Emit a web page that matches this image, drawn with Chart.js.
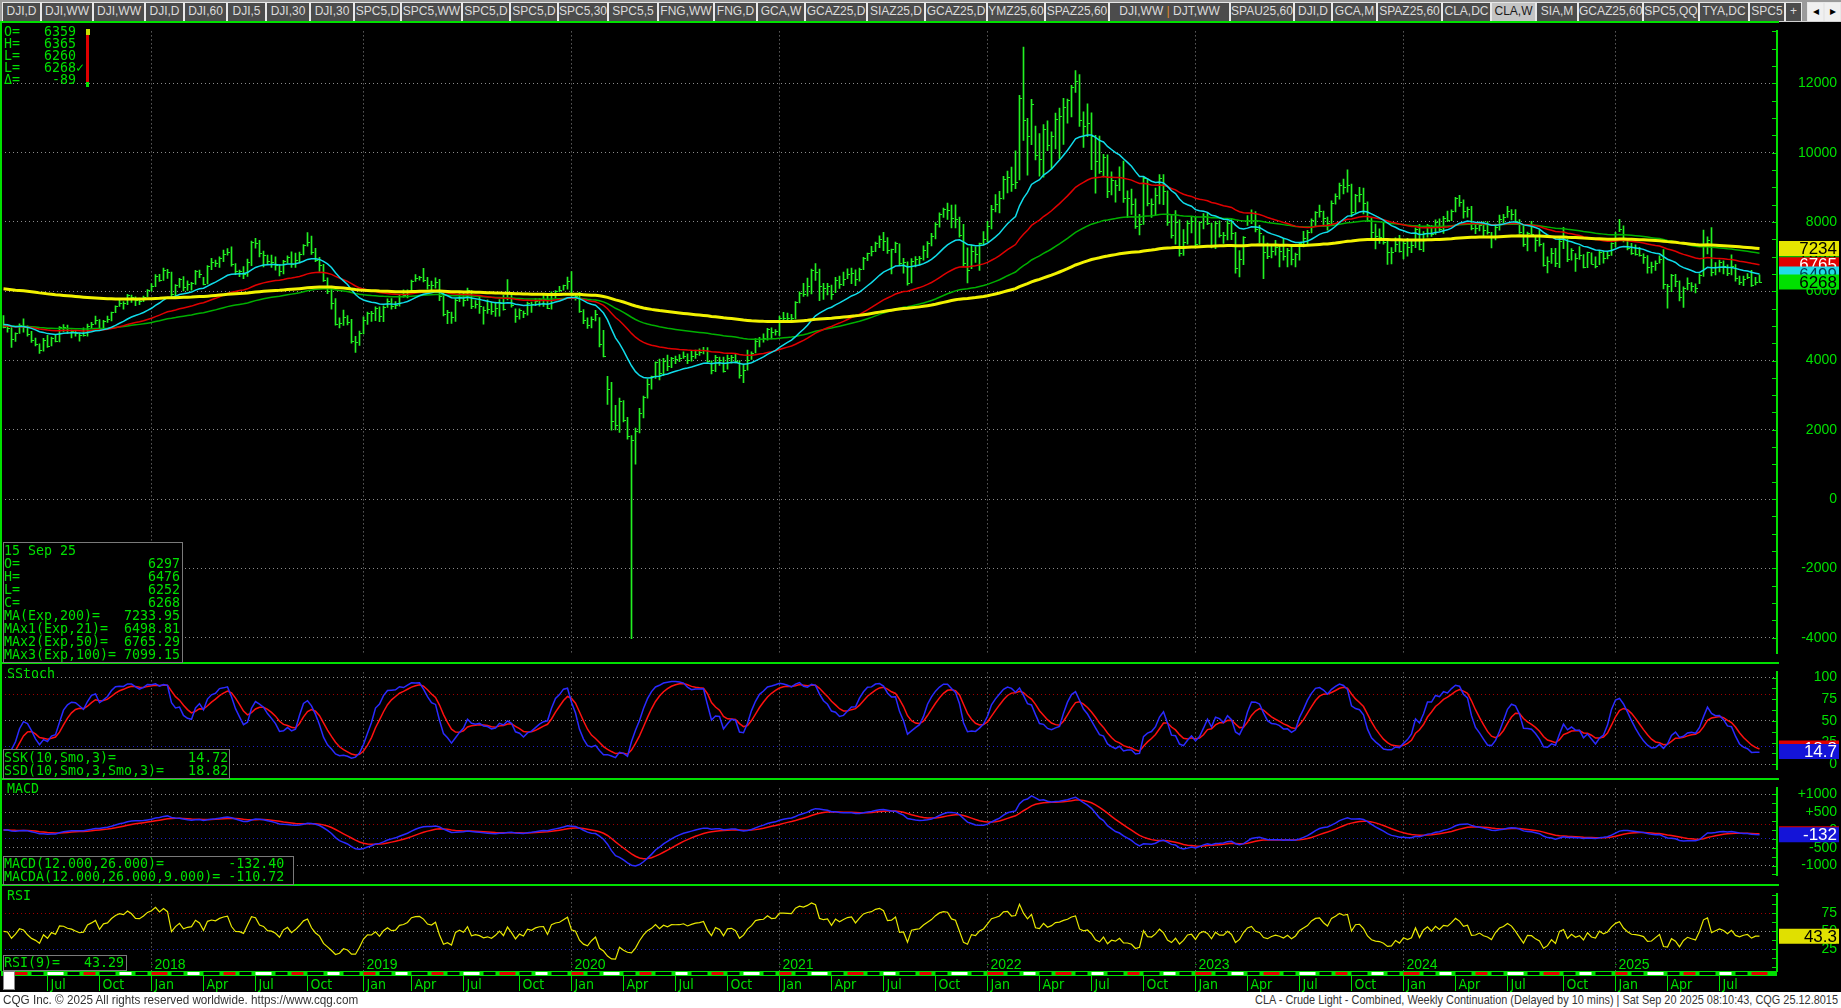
<!DOCTYPE html>
<html>
<head>
<meta charset="utf-8">
<script src="https://cdn.jsdelivr.net/npm/chart.js@4.4.1/dist/chart.umd.min.js"></script>
<style>
  html, body { margin: 0; padding: 0; background: #000; width: 1841px; height: 1008px; overflow: hidden; }
  #tabs { position: absolute; left: 0; top: 0; width: 1841px; height: 22px; background: #9a9a9a; border-bottom: 1px solid #d0d0d0; box-sizing: border-box; }
  .tab { position: absolute; top: 2px; height: 19px; box-sizing: border-box; background: #4c4c4c; color: #dcdcdc;
         border: 1px solid #e8e8e8; border-bottom: none; font: 12px "Liberation Sans", Arial, sans-serif; line-height: 17px; text-align: center; white-space: nowrap; overflow: hidden; }
  .tab.on { background: #c4c4c4; color: #1a1a1a; }
  .tab .sep { color: #e08a20; }
  .panel { position: absolute; left: 0; }
  .gl { position: absolute; background: #00e000; }
  .txt { position: absolute; font: 13.3px "DejaVu Sans Mono", "Liberation Mono", monospace; color: #00e000; white-space: pre; line-height: 13px; }
  .box { position: absolute; border: 1px solid #7a7a7a; background: #000; box-sizing: border-box; }
  #footer { position: absolute; left: 0; top: 992px; width: 1841px; height: 16px; background: #fff; color: #333;
            font: 13px "Liberation Sans", Arial, sans-serif; line-height: 16px; white-space: nowrap; }
  #footer span { position: absolute; top: 0; }
</style>
</head>
<body>
<div id="tabs"></div>

<canvas id="main" class="panel" style="top:23px" width="1841" height="639"></canvas>
<canvas id="stoch" class="panel" style="top:664px" width="1841" height="114"></canvas>
<canvas id="macd" class="panel" style="top:780px" width="1841" height="104"></canvas>
<canvas id="rsi" class="panel" style="top:886px" width="1841" height="106"></canvas>

<div class="gl" style="left:0;top:21px;width:1779px;height:2px"></div>
<div class="gl" style="left:0;top:662px;width:1779px;height:2px"></div>
<div class="gl" style="left:0;top:778px;width:1779px;height:2px"></div>
<div class="gl" style="left:0;top:884px;width:1779px;height:2px"></div>
<div class="gl" style="left:0;top:21px;width:2px;height:950px"></div>

<div class="txt" style="left:4px;top:26px;line-height:12px">O=   6359
H=   6365
L=   6260
L=   6268&#10003;
&#916;=    -89</div>
<div style="position:absolute;left:86px;top:29px;width:3px;height:58px;background:#e00000"></div>
<div style="position:absolute;left:86px;top:82px;width:3px;height:5px;background:#00e000"></div>
<div style="position:absolute;left:86px;top:29px;width:4px;height:6px;background:#c8e000"></div>

<div class="box" style="left:3px;top:542px;width:180px;height:121px"></div>
<div class="txt" style="left:4px;top:544px">15 Sep 25
O=                6297
H=                6476
L=                6252
C=                6268
MA(Exp,200)=   7233.95
MAx1(Exp,21)=  6498.81
MAx2(Exp,50)=  6765.29
MAx3(Exp,100)= 7099.15</div>

<div class="txt" style="left:7px;top:667px">SStoch</div>
<div class="box" style="left:3px;top:749px;width:227px;height:30px"></div>
<div class="txt" style="left:4px;top:751px">SSK(10,Smo,3)=         14.72
SSD(10,Smo,3,Smo,3)=   18.82</div>

<div class="txt" style="left:7px;top:782px">MACD</div>
<div class="box" style="left:3px;top:856px;width:291px;height:29px"></div>
<div class="txt" style="left:4px;top:857px">MACD(12.000,26.000)=        -132.40
MACDA(12.000,26.000,9.000)= -110.72</div>

<div class="txt" style="left:7px;top:889px">RSI</div>
<div class="box" style="left:3px;top:955px;width:124px;height:16px"></div>
<div class="txt" style="left:4px;top:956px">RSI(9)=   43.29</div>
<div style="position:absolute;left:3px;top:971px;width:12px;height:19px;background:#fff;border:1px solid #888;box-sizing:border-box"></div>

<div id="footer"><span style="left:3px;transform:scaleX(0.9);transform-origin:left center">CQG Inc. &copy; 2025 All rights reserved worldwide. https://www.cqg.com</span><span style="right:3px;transform:scaleX(0.84);transform-origin:right center">CLA - Crude Light - Combined, Weekly Continuation (Delayed by 10 mins) | Sat Sep 20 2025 08:10:43, CQG 25.12.8015</span></div>

<script>
// CLA weekly continuation, one bar per week starting Mon 17 Apr 2017, prices in cents
const closes = [
  // 2017
  4962,4933,4622,4784,5033,4980,4766,4583,4474,4301,4604,4423,4654,4577,4971,4958,4882,4851,4787,4729,4748,4989,5066,5167,4929,5145,5184,5390,5564,5674,5655,5895,5836,5736,5730,5847,6042,
  // 2018
  6144,6430,6337,6614,6545,5920,6168,6355,6125,6204,6234,6588,6494,6206,6739,6838,6810,6972,7070,7128,6788,6581,6574,6506,6858,7415,7380,7101,7046,6869,6849,6763,6591,6872,6980,6775,6899,7078,7325,7434,7134,6912,6759,6314,6019,5646,5042,5093,5261,5120,4559,4533,4796,
  // 2019
  5159,5380,5369,5526,5272,5559,5726,5580,5607,5852,5904,6014,6308,6389,6400,6330,6194,6166,6276,5863,5350,5399,5251,5743,5847,5751,6021,5563,5620,5566,5450,5487,5417,5510,5652,5485,5809,5591,5281,5470,5378,5666,5620,5724,5772,5777,5517,5920,6007,6044,6172,6305,
  // 2020
  5904,5854,5419,5156,5032,5205,5338,4476,4128,3173,2243,2151,2834,2276,1827,1694,1978,2474,2943,3325,3549,3955,3626,3975,3849,4065,4055,4059,4129,4027,4122,4201,4234,4297,3977,3733,4111,4025,3705,4060,4088,3985,3579,3714,4013,4215,4553,4626,4657,4910,4823,4852,
  // 2021
  5224,5236,5227,5220,5685,5947,5924,6150,6609,6561,6142,6097,6145,5932,6313,6214,6358,6490,6537,6358,6632,6962,7091,7164,7405,7516,7456,7181,7207,7395,6828,6844,6232,6874,6929,6972,7197,7398,7588,7935,8228,8376,8357,8127,8079,7610,6815,6626,7167,7086,7379,7521,
  // 2022
  7890,8382,8514,8682,9231,9310,9107,9159,11568,10933,10470,11390,9927,9826,10695,10207,10469,10977,11049,11323,11507,11887,12067,10956,10762,10843,10479,9759,9470,9862,8901,9209,9077,9306,8687,8679,8511,7874,7949,9264,8561,8505,8790,9261,8896,8008,7628,7998,7102,7429,7956,8026,
  // 2023
  7377,7986,8164,7968,7339,7972,7634,7632,7968,7668,6674,6926,7567,8070,8252,7787,7678,7134,7004,7169,7267,7174,7017,7178,6916,7064,7386,7542,7707,8058,8282,8319,8125,7983,8555,8751,9077,9003,9079,8279,8769,8808,8554,8051,7717,7589,7554,7407,7123,7143,7356,7165,
  // 2024
  7381,7268,7341,7801,7228,7684,7919,7649,7997,7801,8104,8063,8317,8691,8566,8314,8385,7811,7826,7923,7772,7699,7553,7845,8073,8154,8316,8221,8013,7716,7352,7684,7665,7483,7355,6767,6865,7100,6818,7438,7556,6922,7178,6949,7038,6702,7124,6800,6720,7129,6946,7060,7396,
  // 2025
  7657,7788,7466,7253,7100,7074,7040,6976,6704,6718,6828,6936,6199,6150,6468,6302,5829,6102,6249,6153,6079,6458,7298,7493,6552,6700,6845,6734,6516,6733,6388,6280,6366,6401,6187,6269,6268
];
const highs = [
  5300,5000,4950,4800,5060,5200,5000,4840,4650,4480,4640,4730,4680,4740,4980,5040,5020,4880,4860,4800,4940,5050,5100,5286,5180,5160,5280,5400,5580,5770,5700,5910,5890,5840,5800,5860,6050,
  6220,6480,6490,6666,6630,6550,6190,6370,6420,6300,6260,6600,6610,6400,6740,6950,6900,6990,7190,7230,7280,6800,6610,6710,6930,7450,7527,7470,7160,7040,7040,6990,6770,6890,7020,7140,7100,7130,7350,7690,7590,7240,6980,6780,6390,6090,5790,5230,5455,5300,5190,4700,4850,
  5260,5400,5420,5550,5550,5580,5780,5790,5700,5890,6040,6040,6320,6480,6430,6660,6400,6290,6390,6340,5950,5450,5400,5780,5990,5990,6090,6020,5730,5880,5550,5750,5690,5690,5760,5880,6338,5900,5490,5490,5430,5690,5690,5790,5790,5880,5870,5980,6020,6140,6180,6409,
  6565,5900,5970,5470,5230,5260,5450,5240,4870,3540,3370,2710,2913,2840,2360,1830,2050,2620,2970,3466,3550,3960,4044,4060,4160,4090,4130,4170,4250,4190,4290,4300,4340,4380,4370,3990,4150,4100,4100,4160,4150,4180,4000,3900,4300,4250,4630,4670,4770,4930,4940,4890,
  5280,5390,5370,5330,5700,5980,6230,6380,6640,6798,6640,6230,6230,6180,6400,6440,6550,6650,6670,6620,6670,6980,7100,7299,7420,7600,7698,7550,7220,7420,7370,6950,6850,6940,7000,7010,7310,7430,7670,7980,8260,8400,8541,8490,8497,8140,7930,7250,7330,7280,7390,7720,
  8020,8480,8790,8880,9320,9470,9580,10054,11657,13050,10990,11540,10770,10550,10810,10920,10600,11140,11290,11570,11550,11940,12368,12250,11180,11410,11150,10500,10480,9950,9940,9450,9200,9590,9760,8900,8950,8670,8220,9300,9250,8670,8980,9370,9370,8900,8180,8330,8060,7780,8030,8150,
  8150,8010,8240,8260,7970,8020,8030,7700,8030,8090,7700,7170,7580,8180,8350,8300,7900,7600,7390,7300,7470,7350,7510,7240,7300,7100,7410,7730,7760,8090,8300,8490,8310,8140,8610,8810,9120,9240,9503,9090,8800,9000,8980,8580,8110,7940,7800,7960,7450,7260,7540,7610,
  7440,7530,7490,7830,7930,7720,7930,7900,8060,8090,8160,8310,8350,8710,8767,8640,8430,8450,7960,8000,8010,8010,7700,7940,8200,8220,8450,8360,8360,8070,7890,7710,8020,7600,7780,7390,6990,7240,7240,7560,7846,7500,7230,7090,7290,7060,7130,7110,6990,7160,7160,7140,7400,
  7700,8077,7890,7480,7380,7340,7270,7080,7030,6840,6880,7020,7200,6200,6490,6490,6300,6130,6390,6250,6210,6500,7762,7570,7840,6830,6900,6880,6760,7050,6770,6440,6440,6510,6600,6400,6476
];
const lows = [
  4940,4820,4376,4550,4780,4820,4700,4520,4420,4205,4270,4380,4420,4540,4540,4830,4780,4650,4700,4560,4700,4700,4950,5050,4920,4930,5100,5140,5380,5560,5480,5610,5680,5580,5610,5700,5840,
  6000,6130,6280,6310,6370,5807,5830,6110,6010,6020,6030,6200,6390,6180,6210,6620,6710,6690,6850,7040,6720,6480,6420,6360,6430,6740,7240,6990,6700,6790,6690,6610,6440,6500,6820,6690,6690,6820,7050,7300,7060,6850,6570,6280,5930,5480,5020,4940,5010,5030,4500,4236,4435,
  4770,5040,5130,5150,5120,5120,5530,5480,5500,5570,5830,5810,6000,6280,6320,6270,6060,6000,6090,5730,5290,5060,5070,5130,5700,5570,5730,5500,5510,5360,5052,5360,5330,5270,5280,5450,5750,5540,5099,5190,5240,5310,5390,5580,5570,5560,5500,5480,5810,5980,6030,6060,
  5860,5740,5390,5060,4926,4940,5140,4390,4105,2734,1990,2000,1927,2230,1731,-4032,1007,1910,2340,2910,3170,3480,3440,3560,3710,3790,3910,3970,4060,3910,3980,4060,4150,4190,3950,3611,3680,3860,3660,3750,3920,3930,3492,3364,3720,4030,4220,4390,4530,4590,4620,4730,
  4720,5180,5160,5130,5200,5660,5850,5860,5920,6310,5730,5760,5890,5760,5960,6080,6160,6360,6220,6160,6290,6620,6880,7020,7140,7260,7170,7090,6501,7110,6750,6520,6174,6240,6700,6760,6900,6970,7310,7510,7850,8130,8070,7830,7830,7560,6740,6243,6650,6830,6600,7340,
  7430,7800,8290,8260,8660,8840,8880,8960,9210,10350,9353,10230,9790,9320,9290,10060,9530,10110,9820,10240,10850,11030,11740,10760,10150,10460,9510,8831,9400,9300,8700,8780,8570,8900,8560,8120,8220,7810,7625,7930,8460,8130,8210,8520,8500,7900,7530,7360,7010,7030,7360,7680,
  7250,7350,7800,7920,7250,7230,7560,7380,7480,7490,6520,6412,6770,7900,7950,7710,7400,6364,6940,6960,7040,6700,6900,6700,6760,6700,6900,7280,7330,7680,7890,8140,7880,7760,7940,8510,8660,8810,8860,8150,8260,8580,8230,8010,7500,7220,7380,7360,6771,6790,7140,7130,
  6930,7010,7110,7260,7190,7140,7560,7580,7640,7740,7670,8010,8040,8290,8450,8110,8140,7770,7660,7740,7600,7650,7248,7480,7760,7980,8130,8060,7960,7670,7290,7167,7590,7150,7300,6720,6527,6800,6710,6680,7230,6850,6900,6570,6920,6670,6680,6790,6670,6770,6810,6930,7030,
  7280,7720,7420,7190,7060,7040,7010,6800,6520,6520,6600,6810,6070,5512,5990,6130,5720,5530,6040,6000,5950,6220,6430,7080,6440,6470,6560,6500,6450,6470,6290,6190,6160,6360,6140,6180,6252
];

const maSeeds = { e21: 5050, e50: 5000, e100: 5000, e200: 6080 };
// last values printed in the right-hand boxes
const mainBoxes = [
  { v: 7099.15, text: '7099', bg: '#00b400', fg: '#000' },
  { v: 7233.95, text: '7234', bg: '#e6e600', fg: '#000' },
  { v: 6765.29, text: '6765', bg: '#e00000', fg: '#fff' },
  { v: 6498.81, text: '6499', bg: '#20dce8', fg: '#004058' },
  { v: 6268, text: '6268', bg: '#00e000', fg: '#000' }
];
const stochBoxes = [
  { v: 18.82, text: '18.8', bg: '#e00000', fg: '#fff' },
  { v: 14.72, text: '14.7', bg: '#1414d8', fg: '#fff' }
];
const macdBoxes = [
  { v: -110.72, text: '-111', bg: '#e00000', fg: '#fff' },
  { v: -132.40, text: '-132', bg: '#1414d8', fg: '#fff' }
];
const rsiBoxes = [{ v: 43.29, text: '43.3', bg: '#e0e000', fg: '#000' }];

const tabs = [['DJI,D',39],['DJI,WW',52],['DJI,WW',52],['DJI,D',39],['DJI,60',43],['DJI,5',39],['DJI,30',44],['DJI,30',44],
  ['SPC5,D',47],['SPC5,WW',61],['SPC5,D',48],['SPC5,D',48],['SPC5,30',50],['SPC5,5',50],['FNG,WW',56],['FNG,D',43],['GCA,W',48],
  ['GCAZ25,D',62],['SIAZ25,D',58],['GCAZ25,D',62],['YMZ25,60',58],['SPAZ25,60',64],['DJI,WW <span class="sep">|</span> DJT,WW',121],
  ['SPAU25,60',64],['DJI,D',38],['GCA,M',45],['SPAZ25,60',65],['CLA,DC',49],['CLA,W',45],['SIA,M',42],['GCAZ25,60',65],
  ['SPC5,QQ',56],['TYA,DC',50],['SPC5',36],['+',17]];

const GREEN = '#00e000', BAR = '#22f022', DOT = '#8c8c8c';
const tabBar = document.getElementById('tabs');
let tx = 2;
tabs.forEach(([t, w]) => {
  const d = document.createElement('div');
  d.className = 'tab' + (t === 'CLA,W' ? ' on' : '');
  d.style.left = tx + 'px'; d.style.width = w + 'px'; d.innerHTML = t;
  tabBar.appendChild(d); tx += w;
});
tabBar.insertAdjacentHTML('beforeend', '<div class="tab" style="left:1807px;width:17px;background:#f0f0f0;color:#000">&#9666;</div><div class="tab" style="left:1824px;width:17px;background:#f0f0f0;color:#000">&#9656;</div>');

// indicators
function ema(src, n, seed) {
  const a = 2 / (n + 1);
  let prev = seed === undefined ? src[0] : seed;
  return src.map(v => (prev = prev + a * (v - prev)));
}
function smooth(src, n) {
  let prev = src[0];
  return src.map(v => (prev = (prev * (n - 1) + v) / n));
}
const e21 = ema(closes, 21, maSeeds.e21), e50 = ema(closes, 50, maSeeds.e50);
const e100 = ema(closes, 100, maSeeds.e100), e200 = ema(closes, 200, maSeeds.e200);

const rawK = closes.map((c, i) => {
  const from = Math.max(0, i - 9);
  const hh = Math.max(...highs.slice(from, i + 1)), ll = Math.min(...lows.slice(from, i + 1));
  return hh === ll ? 50 : 100 * (c - ll) / (hh - ll);
});
const ssk = smooth(rawK, 3), ssd = smooth(ssk, 3);

const ema12 = ema(closes, 12), ema26 = ema(closes, 26);
const macd = ema12.map((v, i) => v - ema26[i]);
const macdA = ema(macd, 9, 0);

let ag = 100, al = 100;
const rsi = closes.map((c, i) => {
  if (i === 0) return 50;
  const d = c - closes[i - 1];
  ag = (ag * 8 + Math.max(d, 0)) / 9;
  al = (al * 8 + Math.max(-d, 0)) / 9;
  return 100 - 100 / (1 + ag / al);
});

// time axis: week index -> date
const START = Date.UTC(2017, 3, 17);
const dateOf = i => new Date(START + i * 7 * 864e5);
const monthStarts = [], quarterTicks = [], yearTicks = [];
for (let i = 1; i < closes.length + 4; i++) {
  const d = dateOf(i), p = dateOf(i - 1);
  if (d.getUTCMonth() !== p.getUTCMonth()) {
    monthStarts.push(i);
    if (d.getUTCMonth() % 3 === 0 && i < closes.length) quarterTicks.push(i);
    if (d.getUTCMonth() === 0) yearTicks.push(i);
  }
}
const MONTHS = ['Jan','Feb','Mar','Apr','May','Jun','Jul','Aug','Sep','Oct','Nov','Dec'];
const X_MIN = -0.625, X_MAX = 443.375;

const pts = arr => arr.map((v, i) => ({ x: i, y: v }));
const line = (data, color, width, order) => ({ type: 'line', data: pts(data), borderColor: color, borderWidth: width, pointRadius: 0, tension: 0, order });

// small decorations drawn through the chart's own scales
function decor(boxes, minorStep, extra) {
  return {
    id: 'decor',
    afterDatasetDraw(chart, args) {
      if (args.meta.type !== 'bar') return;
      const ctx = chart.ctx, y = chart.scales.y, a = chart.chartArea;
      ctx.save();
      ctx.beginPath(); ctx.rect(a.left, a.top, a.right - a.left, a.bottom - a.top); ctx.clip();
      ctx.strokeStyle = BAR; ctx.lineWidth = 1; ctx.beginPath();
      args.meta.data.forEach((el, i) => {
        const py = Math.round(y.getPixelForValue(closes[i])) + 0.5;
        ctx.moveTo(el.x, py); ctx.lineTo(el.x + 2.5, py);
      });
      ctx.stroke(); ctx.restore();
    },
    afterDraw(chart) {
      const ctx = chart.ctx, y = chart.scales.y, a = chart.chartArea;
      ctx.save();
      ctx.strokeStyle = GREEN; ctx.lineWidth = 1; ctx.beginPath();
      for (let v = Math.ceil(y.min / minorStep) * minorStep; v <= y.max; v += minorStep) {
        const py = Math.round(y.getPixelForValue(v)) + 0.5;
        ctx.moveTo(a.right - 5, py); ctx.lineTo(a.right, py);
      }
      ctx.stroke();
      const x0 = a.right + 2, x1 = chart.width - 2;
      boxes.forEach(b => {
        const py = y.getPixelForValue(b.v);
        ctx.save();
        ctx.beginPath(); ctx.rect(x0, py - 7.5, x1 - x0, 15);
        ctx.fillStyle = b.bg; ctx.fill(); ctx.clip();
        ctx.fillStyle = b.fg; ctx.font = '17px "Liberation Sans", Arial, sans-serif';
        ctx.textAlign = 'right'; ctx.textBaseline = 'middle';
        ctx.fillText(b.text, x1 - 2, py + 1);
        ctx.restore();
      });
      ctx.restore();
      if (extra) extra(chart);
    }
  };
}

function options(yMin, yMax, yTicks, fmt, gridColor, opts = {}) {
  return {
    animation: false, responsive: false, events: [],
    layout: { padding: { left: 1, right: 4, top: 0, bottom: 0 } },
    plugins: { legend: { display: false }, tooltip: { enabled: false } },
    scales: {
      x: Object.assign({
        type: 'linear', min: X_MIN, max: X_MAX, offset: false,
        afterBuildTicks: s => { s.ticks = yearTicks.map(v => ({ value: v })); },
        afterFit: s => { s.height = 0; },
        ticks: { display: false },
        grid: { color: DOT, drawTicks: false, offset: false },
        border: { display: false, dash: [1, 3] }
      }, opts.x || {}),
      y: {
        position: 'right', min: yMin, max: yMax,
        afterBuildTicks: s => { s.ticks = yTicks.map(v => ({ value: v })); },
        afterFit: s => { s.width = 60; },
        ticks: { color: GREEN, autoSkip: false, crossAlign: 'far', padding: 0, callback: fmt,
                 font: { family: '"Liberation Sans", Arial, sans-serif', size: 14 } },
        grid: { color: gridColor, drawTicks: false },
        border: { color: GREEN, width: 2, dash: [1, 3] }
      }
    }
  };
}

// main price panel
new Chart(document.getElementById('main'), {
  data: {
    datasets: [
      { type: 'bar', data: closes.map((c, i) => ({ x: i, y: [lows[i], highs[i]] })), backgroundColor: BAR, barThickness: 1, order: 10 },
      line(e100, '#00b000', 1.5, 4),
      line(e50, '#e00000', 1.5, 3),
      line(e21, '#10dcea', 1.5, 2),
      line(e200, '#f2f200', 3, 1)
    ]
  },
  options: options(-4460, 13500, [-4000, -2000, 0, 2000, 4000, 6000, 8000, 10000, 12000], v => String(v), DOT),
  plugins: [decor(mainBoxes, 500)]
});

// slow stochastic
new Chart(document.getElementById('stoch'), {
  data: { datasets: [
    { type: 'bar', data: [], order: 10 },
    line(ssd, '#ff1010', 1.5, 2),
    line(ssk, '#2a2aff', 1.5, 1)
  ] },
  options: options(-6.2, 105.9, [0, 20, 25, 50, 75, 80, 100],
    v => ([20, 80].includes(v) ? '' : String(v)),
    c => (c.tick.value === 80 ? '#a00000' : c.tick.value === 20 ? '#2020c0' : [25, 75].includes(c.tick.value) ? 'transparent' : DOT)),
  plugins: [decor(stochBoxes, 12.5)]
});

// MACD
new Chart(document.getElementById('macd'), {
  data: { datasets: [
    { type: 'bar', data: [], order: 10 },
    line(macdA, '#ff1010', 1.5, 2),
    line(macd, '#2a2aff', 1.5, 1)
  ] },
  options: options(-1282, 1165, [-1000, -500, -250, 0, 150, 500, 1000],
    v => ([-250, 150].includes(v) ? '' : v > 0 ? '+' + v : String(v)),
    c => (c.tick.value === 150 ? '#a00000' : c.tick.value === -250 ? '#2020c0' : c.tick.value === 0 ? 'transparent' : DOT)),
  plugins: [decor(macdBoxes, 250)]
});

// RSI with the time axis underneath
const rsiOpts = options(-5, 101.25, [25, 50, 75], v => String(v),
  c => (c.tick.value === 75 ? '#a00000' : c.tick.value === 25 ? '#2020c0' : DOT), {
  x: {
    type: 'linear', min: X_MIN, max: X_MAX, offset: false,
    afterBuildTicks: s => { s.ticks = quarterTicks.map(v => ({ value: v })); },
    afterFit: s => { s.height = 21; },
    ticks: {
      display: true, color: GREEN, autoSkip: false, maxRotation: 0, align: 'start', labelOffset: 3, padding: -14,
      font: { family: '"Liberation Sans Narrow", "DejaVu Sans Condensed", sans-serif', size: 14 },
      callback: v => MONTHS[dateOf(v).getUTCMonth()]
    },
    grid: { drawTicks: true, tickLength: 20, tickColor: GREEN, tickWidth: 1, offset: false,
            color: c => (c.tick && yearTicks.includes(c.tick.value) ? DOT : 'transparent') },
    border: { display: false, dash: [1, 3] }
  }
});
new Chart(document.getElementById('rsi'), {
  data: { datasets: [
    { type: 'bar', data: [], order: 10 },
    line(rsi, '#e8e800', 1.2, 1)
  ] },
  options: rsiOpts,
  plugins: [decor(rsiBoxes, 12.5, chart => {
    const ctx = chart.ctx, x = chart.scales.x, a = chart.chartArea;
    ctx.save();
    // CQG time strip
    ctx.fillStyle = '#00e000';
    ctx.fillRect(a.left, a.bottom, a.right - a.left, 5);
    const cols = ['#e00000', '#000', '#ffffff', '#000'];
    monthStarts.forEach((m, k) => {
      const next = monthStarts[k + 1];
      if (next === undefined) return;
      const x0 = x.getPixelForValue(m - 0.5), x1 = Math.min(x.getPixelForValue(next - 0.5), a.right);
      ctx.fillStyle = cols[k % 4];
      ctx.fillRect(x0 + 2, a.bottom + 1, x1 - x0 - 4, 3);
    });
    // year captions
    ctx.fillStyle = GREEN; ctx.font = '14px "Liberation Sans", Arial, sans-serif'; ctx.textBaseline = 'middle';
    yearTicks.forEach(t => {
      const px = x.getPixelForValue(t);
      ctx.fillRect(px, a.bottom - 7, 1, 1);
      ctx.fillText(String(dateOf(t).getUTCFullYear()), px + 3, a.bottom - 6);
    });
    ctx.restore();
  })]
});
</script>
</body>
</html>
